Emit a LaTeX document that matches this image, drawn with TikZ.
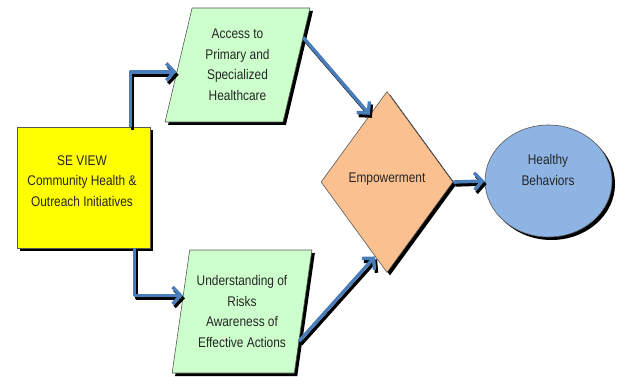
\documentclass[tikz,border=0pt]{standalone}
\usepackage{fontspec}
\setmainfont[FakeStretch=0.85]{Liberation Sans}
\usetikzlibrary{shapes.geometric,shadows,arrows.meta,calc}
\definecolor{boxyellow}{HTML}{FFFF00}
\definecolor{boxgreen}{HTML}{CCFFCC}
\definecolor{boxpeach}{HTML}{FAC090}
\definecolor{boxblue}{HTML}{8EB4E3}
\definecolor{linkblue}{HTML}{4A7EBB}
\newcommand\drawlinks{%
  \draw[link] ($(se.north west)!0.85!(se.north east)$)
    |- ($(access.bottom left corner)!0.44!(access.top left corner)$);
  \draw[link] ($(se.south west)!0.88!(se.south east)$)
    |- ($(risk.bottom left corner)!0.63!(risk.top left corner)$);
  \draw[link] ($(access.bottom right corner)!0.74!(access.top right corner)$)
    -- ($(emp.west)!0.74!(emp.north)$);
  \draw[link] ($(risk.bottom right corner)!0.26!(risk.top right corner)$)
    -- ($(emp.west)!0.82!(emp.south)$);
  \draw[link] (emp.east) -- (hb.west);
}
\begin{document}
\begin{tikzpicture}[x=1pt,y=-1pt,
  every node/.style={font=\fontsize{14}{20.5}\selectfont, text=black!85, align=center},
  shadowed/.style={drop shadow={shadow xshift=3pt, shadow yshift=-3pt, fill=black, opacity=1}},
  outline/.style={draw=black!65, line width=0.6pt},
  startbox/.style={rectangle, fill=boxyellow, outline, shadowed,
    minimum width=133pt, minimum height=121pt, inner sep=0pt},
  leanbox/.style={trapezium, trapezium stretches=true, fill=boxgreen, outline, shadowed, inner sep=0pt},
  decision/.style={diamond, fill=boxpeach, outline, shadowed,
    minimum width=132pt, minimum height=181pt, inner sep=0pt},
  goal/.style={ellipse, fill=boxblue, outline, shadowed,
    minimum width=127pt, minimum height=112pt, inner sep=0pt},
  plain/.style={inner sep=0pt},
  linkbase/.style={line width=3.4pt, line join=round,
    -{Straight Barb[length=8pt,width=17pt]}},
  link/.style={linkbase, draw=linkblue}
]
\useasboundingbox (0,0) rectangle (619,377);

% shapes
\node[startbox] (se) at (83.5,187.5) {};
\node[plain] (setext) at (82,181) {SE VIEW\\Community Health \&\\Outreach Initiatives};

\node[leanbox, trapezium left angle=75, trapezium right angle=105,
  minimum width=145pt, minimum height=114pt] (access) at (237.5,65)
  {Access to\\Primary and\\Specialized\\Healthcare};

\node[leanbox, trapezium left angle=78, trapezium right angle=102,
  minimum width=140pt, minimum height=123pt] (risk) at (242,311.5)
  {Understanding of\\Risks\\Awareness of\\Effective Actions};

\node[decision] (emp) at (387,182) {};
\node[plain] (emptext) at (387,179) {Empowerment};

\node[goal] (hb) at (548.5,181) {};
\node[plain] (hbtext) at (548,170) {Healthy\\Behaviors};

% connectors: a black offset copy underneath, then the blue lines
\begin{scope}[transform canvas={shift={(2pt,-3pt)}},
    link/.style={linkbase, draw=black}]
  \drawlinks
\end{scope}
\drawlinks
\end{tikzpicture}
\end{document}
